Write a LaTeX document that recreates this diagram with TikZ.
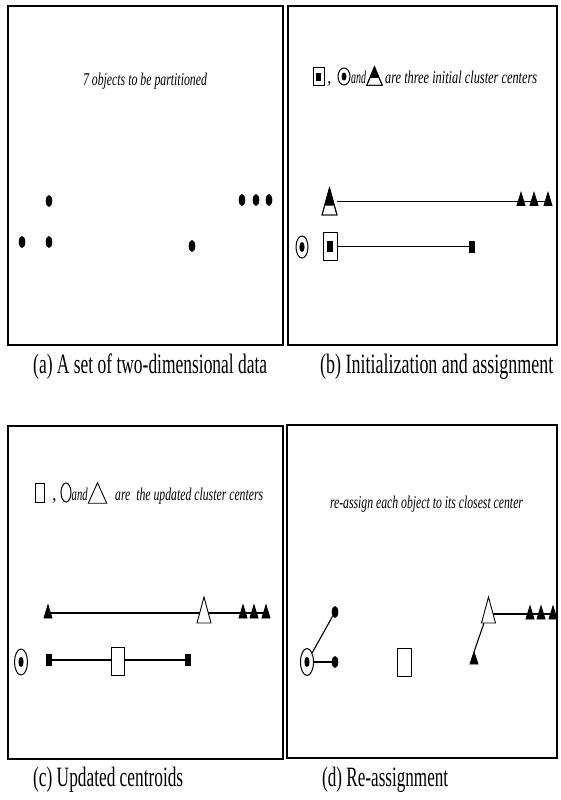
\documentclass[tikz,border=0pt]{standalone}
\usepackage{fontspec}
\setmainfont{Liberation Serif}
\usetikzlibrary{shapes.geometric,calc}
\newcommand\fitw[2]{\resizebox{#1}{\height}{#2}}
\newcommand\titfont{\fontsize{18}{18}\selectfont\itshape}
\newcommand\capfont{\fontsize{28}{28}\selectfont}
\newcommand\drawtri[2]{\draw[line width=0.9pt, fill=#2, line join=miter] (#1.north) -- (#1.south east) -- (#1.south west) -- cycle;}
\tikzset{
  frame/.style={draw, line width=1.4pt},
  link/.style={draw, line width=1.1pt},
  pt/.style={ellipse, fill=black, minimum width=6.6pt, minimum height=12pt, inner sep=0pt},
  cdot/.style 2 args={ellipse, draw, line width=1pt, fill=white, inner sep=0pt,
    path picture={\fill[black] (path picture bounding box.center) ellipse (#1 and #2);}},
  ocirc/.style={ellipse, draw, line width=1pt, fill=white, inner sep=0pt},
  osq/.style={rectangle, draw, line width=1pt, fill=white, inner sep=0pt},
  fsq/.style 2 args={osq, path picture={\fill[black] ($(path picture bounding box.center)+(-#1,-#2)$) rectangle ($(path picture bounding box.center)+(#1,#2)$);}},
  blk/.style={rectangle, fill=black, minimum width=6pt, minimum height=12pt, inner sep=0pt},
  stri/.style={inner sep=0pt, outer sep=0pt, minimum width=8pt, minimum height=13pt},
  btri/.style={inner sep=0pt, outer sep=0pt, minimum width=14pt, minimum height=26pt},
  txt/.style={inner sep=0pt, anchor=base west},
}
\begin{document}
\begin{tikzpicture}[x=1pt,y=-1pt]
\useasboundingbox (0,0) rectangle (560,800);
% frames
\draw[frame] (8,6) rectangle (283,345);
\draw[frame] (288,6) rectangle (557,345);
\draw[frame] (8,426) rectangle (283,759);
\draw[frame] (287,425) rectangle (557,758);

% ---------- (a)
\node[anchor=base, inner sep=0pt] (ta) at (145,85) {\fitw{124pt}{\titfont 7 objects to be partitioned}};
\node[pt] (a1) at (22,242) {};
\node[pt] (a2) at (49,201) {};
\node[pt] (a3) at (49,242) {};
\node[pt] (a4) at (192,246) {};
\node[pt] (a5) at (242,200) {};
\node[pt] (a6) at (256,200) {};
\node[pt] (a7) at (269,200) {};
\node[txt] (ca) at (33,373) {\fitw{234pt}{\capfont (a) A set of two-dimensional data}};

% ---------- (b) title
\node[fsq={2.5pt}{4pt}, minimum width=11pt, minimum height=17pt] (ib1) at (318.5,76.5) {};
\node[txt] (tb1) at (327,84) {\titfont ,};
\node[cdot={2.5pt}{4pt}, minimum width=12pt, minimum height=17pt] (ib2) at (344,76.5) {};
\node[txt] (tb2) at (351,84) {\fitw{15pt}{\titfont and}};
\node[inner sep=0pt, minimum width=15pt, minimum height=18pt] (ib3) at (374.5,76) {};
\node[txt] (tb3) at (385,84) {\fitw{152pt}{\titfont are three initial cluster centers}};
\drawtri{ib3}{white}
\fill (ib3.north) -- ($(ib3.north)!0.6!(ib3.south east)$) -- ($(ib3.north)!0.6!(ib3.south west)$) -- cycle;
\drawtri{ib3}{none}

% ---------- (b) plot
\node[inner sep=0pt, outer sep=0pt, minimum width=15pt, minimum height=27pt] (bbig) at (329.5,201.5) {};
\node[stri] (bt1) at (521,199) {};
\node[stri] (bt2) at (534,199) {};
\node[stri] (bt3) at (548,199) {};
\draw[link] (bbig.east) -- (bt3.center |- bbig.east);
\drawtri{bbig}{white}
\fill (bbig.north) -- ($(bbig.north)!0.65!(bbig.south east)$) -- ($(bbig.north)!0.65!(bbig.south west)$) -- cycle;
\drawtri{bbig}{none}
\drawtri{bt1}{black}
\drawtri{bt2}{black}
\drawtri{bt3}{black}
\node[cdot={2.6pt}{5pt}, minimum width=12pt, minimum height=22pt] (bc) at (302,247) {};
\node[fsq={3pt}{5.5pt}, minimum width=14pt, minimum height=28pt] (bsq) at (330,246) {};
\node[blk] (bsm) at (472,246.5) {};
\draw[link] (bsq.east |- bsm.west) -- (bsm.west);
\node[txt] (cb) at (320,373) {\fitw{233pt}{\capfont (b) Initialization and assignment}};

% ---------- (c) title
\node[osq, minimum width=9pt, minimum height=19pt] (ic1) at (39.5,492.5) {};
\node[txt] (tc1) at (52,500) {\titfont ,};
\node[ocirc, minimum width=10pt, minimum height=19pt] (ic2) at (66,492.5) {};
\node[txt] (tc2) at (71.5,500) {\fitw{16pt}{\titfont and}};
\node[inner sep=0pt, minimum width=18pt, minimum height=20pt] (ic3) at (97.5,493) {};
\drawtri{ic3}{white}
\node[txt] (tc3) at (115,500) {\fitw{148pt}{\titfont are~ the updated cluster centers}};

% ---------- (c) plot
\node[stri] (ct1) at (48,611.5) {};
\node[btri] (cbig) at (204,610) {};
\node[stri] (ct2) at (243,611.5) {};
\node[stri] (ct3) at (254,611.5) {};
\node[stri] (ct4) at (266,611.5) {};
\draw[link] (ct1.center |- 0,613) -- (ct4.center |- 0,613);
\drawtri{ct1}{black}
\drawtri{cbig}{white}
\drawtri{ct2}{black}
\drawtri{ct3}{black}
\drawtri{ct4}{black}
\node[cdot={2.6pt}{5pt}, minimum width=13pt, minimum height=26pt] (cc) at (21,662) {};
\node[blk] (cl) at (49,660) {};
\node[osq, minimum width=13pt, minimum height=28pt] (csq) at (117.5,661) {};
\node[blk] (cr) at (188,660) {};
\draw[link] (cl.east) -- (csq.west |- cl.east);
\draw[link] (csq.east |- cr.west) -- (cr.west);
\node[txt] (ccap) at (33,786) {\fitw{150pt}{\capfont (c) Updated centroids}};

% ---------- (d)
\node[anchor=base, inner sep=0pt] (td) at (426.5,508) {\fitw{193pt}{\titfont re-assign each object to its closest center}};
\node[pt] (dd1) at (335,612) {};
\node[pt] (dd2) at (335,662) {};
\node[cdot={2.6pt}{5pt}, minimum width=13pt, minimum height=27pt] (dc) at (307,662) {};
\draw[link] (dc) -- (dd1);
\draw[link] (dc) -- (dd2);
\node[osq, minimum width=14pt, minimum height=28pt] (dsq) at (404,662) {};
\node[btri] (dbig) at (488.5,610) {};
\node[stri] (dt1) at (530,612.5) {};
\node[stri] (dt2) at (541,612.5) {};
\node[stri] (dt3) at (553,612.5) {};
\node[stri, minimum height=12pt] (dlow) at (474,658) {};
\draw[link] (dbig.center |- 0,614) -- (dt3.center |- 0,614);
\draw[link] ($(dbig.south west)!0.35!(dbig.south)$) -- (dlow.north);
\drawtri{dbig}{white}
\drawtri{dt1}{black}
\drawtri{dt2}{black}
\drawtri{dt3}{black}
\drawtri{dlow}{black}
\node[txt] (dcap) at (322,786) {\fitw{126pt}{\capfont (d) Re-assignment}};
\end{tikzpicture}
\end{document}
